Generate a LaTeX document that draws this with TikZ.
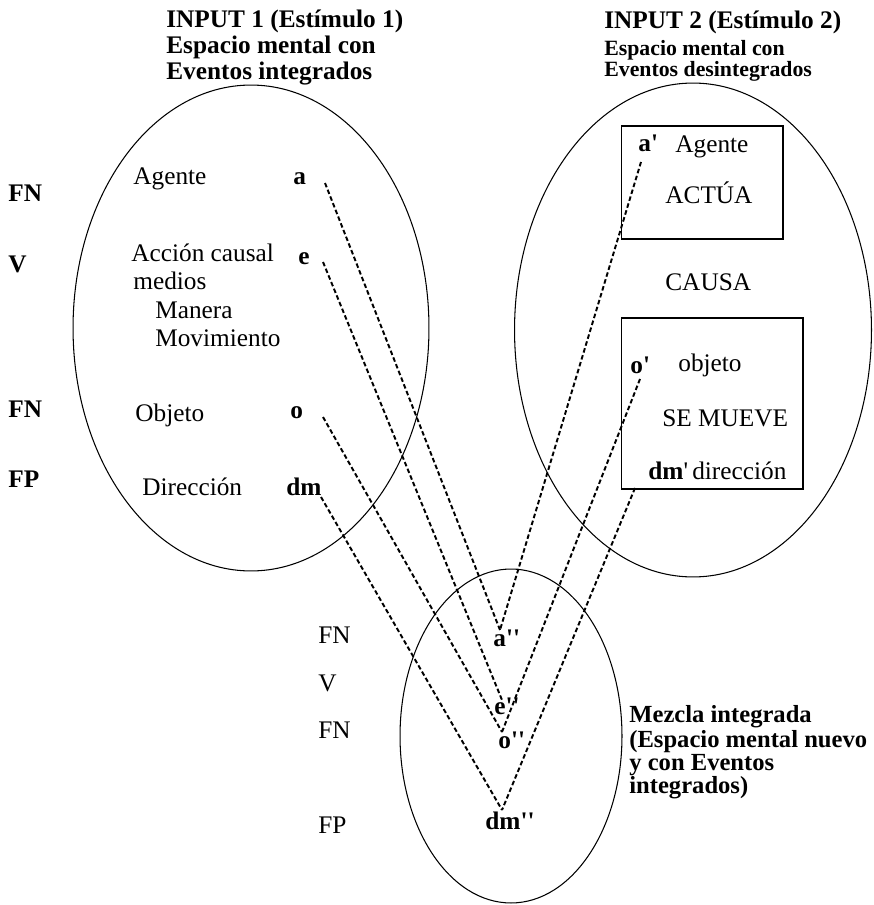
\documentclass[tikz,border=0pt]{standalone}
\usepackage{fontspec}
\newfontfamily\timesfont{Liberation Serif}
\usetikzlibrary{shapes.geometric}
\tikzstyle{mentalspace} = [ellipse, draw, line width=0.6pt]
\tikzstyle{eventbox} = [rectangle, draw, line width=0.6pt]
\tikzstyle{txt} = [anchor=base west, inner sep=0pt, font=\timesfont\fontsize{14.4}{14.8}\selectfont]
\tikzstyle{btxt} = [txt, font=\timesfont\fontsize{14.4}{14.8}\selectfont\bfseries]
\tikzstyle{mtxt} = [txt, font=\timesfont\fontsize{14}{13}\selectfont\bfseries]
\tikzstyle{link} = [line width=1.1pt, dash pattern=on 2.6pt off 1.5pt]

\begin{document}
\begin{tikzpicture}[x=0.02cm, y=-0.02cm]
        \useasboundingbox (0,0) rectangle (873,905);

        % the three mental spaces
        \node[mentalspace, minimum width=7.12cm, minimum height=9.72cm] (InputOne) at (251,328) {};
        \node[mentalspace, minimum width=7.14cm, minimum height=9.88cm] (InputTwo) at (693,330) {};
        \node[mentalspace, minimum width=4.44cm, minimum height=6.68cm] (Blend) at (511,736) {};
        \node[eventbox, minimum width=3.24cm, minimum height=2.26cm] (ActBox) at (702,182.5) {};
        \node[eventbox, minimum width=3.64cm, minimum height=3.42cm] (MoveBox) at (712,403.5) {};

        % titles
        \node[btxt] (TitleOne) at (166,28) {INPUT 1 (Estímulo 1)};
        \node[btxt] (TitleOneB) at (166,54) {Espacio mental con};
        \node[btxt] (TitleOneC) at (166,80) {Eventos integrados};
        \node[btxt] (TitleTwo) at (604,29) {INPUT 2 (Estímulo 2)};
        \node[anchor=north west, inner sep=0pt, align=left, font=\timesfont\fontsize{12.4}{10.6}\selectfont\bfseries]
            (TitleTwoB) at (604,40) {Espacio mental con\\Eventos desintegrados};
        \node[mtxt] (TitleBlend) at (629,722) {Mezcla integrada};
        \node[mtxt] (TitleBlendB) at (629,747) {(Espacio mental nuevo};
        \node[mtxt] (TitleBlendC) at (629,770) {y con Eventos};
        \node[mtxt] (TitleBlendD) at (629,793) {integrados)};

        % input 1
        \node[btxt] (FNa) at (8,202) {FN};
        \node[btxt] (Va) at (8,273) {V};
        \node[btxt] (FNo) at (8,417) {FN};
        \node[btxt] (FPdm) at (8,487) {FP};
        \node[txt] (Agente) at (133,185) {Agente};
        \node[txt] (Accion) at (131,262) {Acción causal};
        \node[txt] (Medios) at (133,290) {medios};
        \node[txt] (Manera) at (155,318) {Manera};
        \node[txt] (Movimiento) at (155,346) {Movimiento};
        \node[txt] (Objeto) at (135,421) {Objeto};
        \node[txt] (Direccion) at (142,495) {Dirección};
        \node[btxt] (a) at (293,185) {a};
        \node[btxt] (e) at (298,265) {e};
        \node[btxt] (o) at (290,418) {o};
        \node[btxt] (dm) at (286,495) {dm};

        % input 2
        \node[btxt] (aP) at (638,152) {a'};
        \node[txt] (AgenteP) at (675,153) {Agente};
        \node[txt] (Actua) at (665,204) {ACTÚA};
        \node[txt] (Causa) at (665,291) {CAUSA};
        \node[btxt] (oP) at (630,373) {o'};
        \node[txt] (ObjetoP) at (678,371) {objeto};
        \node[txt] (SeMueve) at (662,426) {SE MUEVE};
        \node[txt] (dmP) at (648,479) {\textbf{dm}'\,dirección};

        % blend
        \node[txt] (FNaB) at (318,643) {FN};
        \node[txt] (VB) at (318,691) {V};
        \node[txt] (FNoB) at (318,738) {FN};
        \node[txt] (FPB) at (318,833) {FP};
        \node[btxt] (aB) at (493,646) {a''};
        \node[btxt] (eB) at (494,714) {e''};
        \node[btxt] (oB) at (498,748) {o''};
        \node[btxt] (dmB) at (485,829) {dm''};

        % ends of the projections
        \coordinate (aStart) at (325,183);
        \coordinate (eStart) at (323,262);
        \coordinate (oStart) at (323,417);
        \coordinate (dmStart) at (321,497);
        \coordinate (aPStart) at (641,162);
        \coordinate (oPStart) at (640,379);
        \coordinate (dmPStart) at (635,488);
        \coordinate (aEnd) at (500,630);
        \coordinate (eEnd) at (502,700);
        \coordinate (oEnd) at (502,732);
        \coordinate (dmEnd) at (502,810);

        \draw[link] (aStart) -- (aEnd);
        \draw[link] (eStart) -- (eEnd);
        \draw[link] (oStart) -- (oEnd);
        \draw[link] (dmStart) -- (dmEnd);
        \draw[link] (aPStart) -- (aEnd);
        \draw[link] (oPStart) -- (oEnd);
        \draw[link] (dmPStart) -- (dmEnd);
    \end{tikzpicture}
\end{document}
